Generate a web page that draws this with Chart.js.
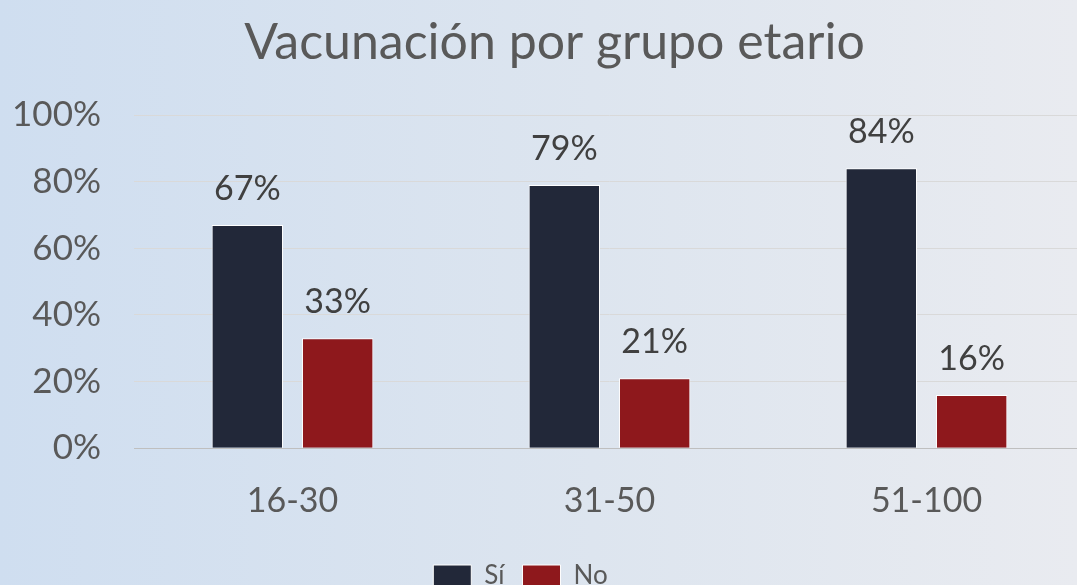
<!DOCTYPE html>
<html>
<head>
<meta charset="utf-8">
<script src="https://cdn.jsdelivr.net/npm/chart.js@4"></script>
<style>
  html, body { margin: 0; padding: 0; }
  body {
    width: 1077px; height: 585px; overflow: hidden; position: relative;
    background: linear-gradient(to right, #cfdef0 0%, #dde5ef 55%, #e9ebf0 100%);
  }
  #wrap { position: absolute; left: 0; top: 0; width: 1090px; height: 599px; }
</style>
</head>
<body>
<div id="wrap"><canvas id="chart"></canvas></div>
<script>
// datos
const grupos = ['16-30', '31-50', '51-100'];
const si = [67, 79, 84];
const no = [33, 21, 16];
const ticksY = [0, 20, 40, 60, 80, 100];

const gris = '#595959';

// etiquetas de valor encima de cada barra
const etiquetas = {
  id: 'etiquetas',
  afterLayout(chart) {
    // el titulo va un poco a la derecha, la leyenda a la izquierda
    chart.titleBlock.left += 16;
    chart.legend.right -= 52;
  },
  afterDatasetsDraw(chart) {
    const ctx = chart.ctx;
    ctx.save();
    ctx.font = '34px Lato';
    ctx.fillStyle = '#404040';
    ctx.textAlign = 'center';
    ctx.textBaseline = 'alphabetic';
    chart.data.datasets.forEach((ds, i) => {
      chart.getDatasetMeta(i).data.forEach((bar, j) => {
        ctx.fillText(ds.data[j] + '%', bar.x, bar.y - 25);
      });
    });
    ctx.restore();
  }
};

new Chart(document.getElementById('chart'), {
  type: 'bar',
  data: {
    labels: grupos,
    datasets: [
      { label: 'Sí', data: si, backgroundColor: '#222839', borderColor: '#ffffff', borderWidth: 1 },
      { label: 'No', data: no, backgroundColor: '#8e181c', borderColor: '#ffffff', borderWidth: 1 }
    ]
  },
  options: {
    responsive: true,
    maintainAspectRatio: false,
    animation: false,
    devicePixelRatio: 1,
    categoryPercentage: 0.57,
    barPercentage: 0.79,
    layout: { padding: { left: 8, right: 5, top: 0, bottom: 0 } },
    plugins: {
      title: {
        display: true,
        text: 'Vacunación por grupo etario',
        color: gris,
        font: { family: 'Lato', size: 50, weight: 'normal' },
        padding: { top: 13, bottom: 42 }
      },
      legend: {
        position: 'bottom',
        labels: {
          color: gris,
          boxWidth: 38,
          boxHeight: 22,
          padding: 18,
          font: { family: 'Lato', size: 26 }
        }
      },
      tooltip: { enabled: false }
    },
    scales: {
      y: {
        min: 0,
        max: 100,
        afterBuildTicks(axis) { axis.ticks = ticksY.map(v => ({ value: v })); },
        afterFit(axis) { axis.width = 126; },
        ticks: {
          color: gris,
          padding: 33,
          font: { family: 'Lato', size: 35 },
          callback: v => v + '%'
        },
        grid: { color: '#d9d9d9', drawTicks: false },
        border: { display: false }
      },
      x: {
        z: 1,
        ticks: { color: gris, padding: 24, font: { family: 'Lato', size: 34 } },
        grid: { display: false },
        border: { color: '#bfbfbf', width: 1 }
      }
    }
  },
  plugins: [etiquetas]
});
</script>
</body>
</html>
